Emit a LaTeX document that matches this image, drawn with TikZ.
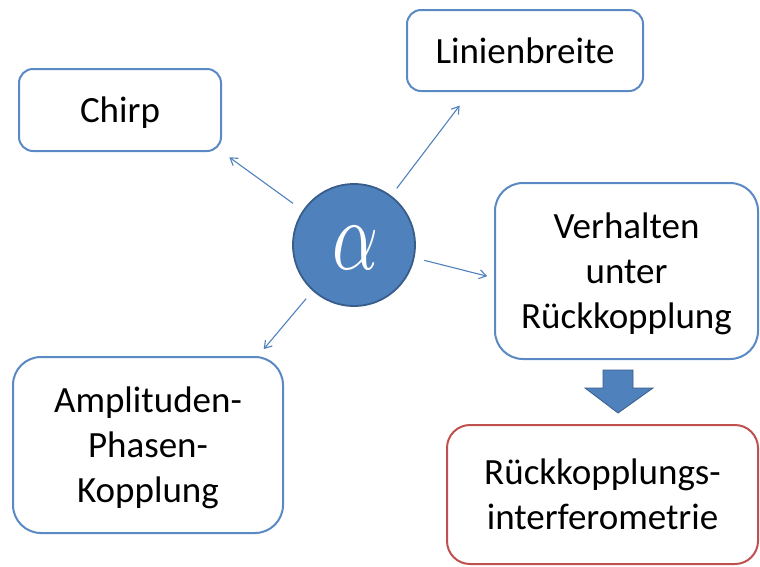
\documentclass[tikz,border=0pt]{standalone}
\usepackage{fontspec}
\setmainfont{Carlito}
\usetikzlibrary{arrows.meta}
\definecolor{boxblue}{HTML}{5B89C3}
\definecolor{fillblue}{HTML}{4F81BD}
\definecolor{darkblue}{HTML}{385D8A}
\definecolor{boxred}{HTML}{C0504D}
\tikzset{
  topic/.style={draw=boxblue, line width=2pt, fill=white, align=center, inner sep=0pt,
    text depth=0pt, font=\fontsize{37}{45}\selectfont},
  conn/.style={draw=fillblue, line width=1.1pt, -{Straight Barb[length=7pt,width=9pt]}},
  blockarrow/.style={fill=fillblue, draw=darkblue, line width=0.8pt},
}
\begin{document}
\begin{tikzpicture}[x=1pt,y=-1pt]
\useasboundingbox (0,0) rectangle (760,566);
\node[circle, fill=fillblue, draw=darkblue, line width=1.8pt, minimum size=122pt, inner sep=0pt] (c) at (354,245) {};
\node[text=white] (alpha) at (355,248) {\resizebox{46pt}{43pt}{$\alpha$}};
\node[topic, rounded corners=14pt, minimum width=202pt, minimum height=82pt] (chirp) at (120,110) {Chirp};
\node[topic, rounded corners=14pt, minimum width=236pt, minimum height=81pt] (lin) at (525,50.5) {Linienbreite};
\node[topic, rounded corners=28pt, minimum width=263pt, minimum height=176pt] (verh) at (626.5,271) {Verhalten\\unter\\Rückkopplung};
\node[topic, rounded corners=28pt, minimum width=270pt, minimum height=176pt] (amp) at (148,445) {Amplituden-\\Phasen-\\Kopplung};
\node[topic, draw=boxred, rounded corners=23pt, minimum width=311pt, minimum height=139pt] (rk) at (602.5,494.5) {Rückkopplungs-\\interferometrie};
\draw[conn, shorten <=12pt, shorten >=9pt] (c.146.7) -- (chirp.south east);
\draw[conn, shorten <=9pt, shorten >=17pt] (c.53.3) -- (lin.217.4);
\draw[conn, shorten <=10pt, shorten >=7pt] (c.-12.3) -- (verh.183.9);
\draw[conn, shorten <=10pt, shorten >=9pt] (c.228.4) -- (amp.39.2);
\draw[blockarrow]
  (603,370) -- (633,370) -- (633,388) -- (653,388) -- (618,413) -- (585,388) -- (603,388) -- cycle;
\end{tikzpicture}
\end{document}
